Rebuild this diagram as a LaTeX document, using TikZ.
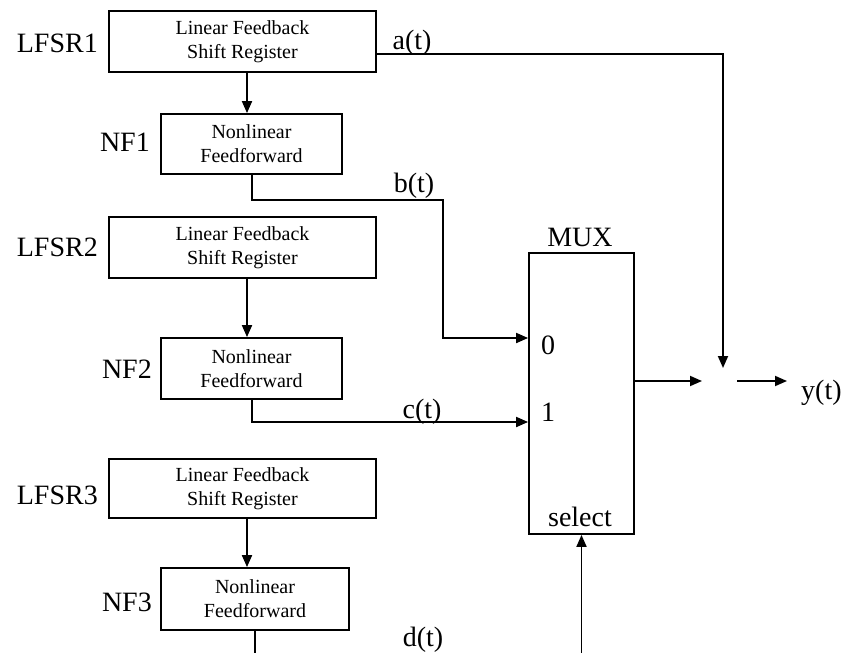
\documentclass[tikz,border=0pt]{standalone}
\usepackage{fontspec}
\setmainfont{Liberation Serif}
\usetikzlibrary{arrows.meta}
\begin{document}
\begin{tikzpicture}[x=1pt,y=-1pt,
  wire/.style={line width=1.8pt},
  arr/.style={wire,-{Triangle[length=12pt,width=10pt]}},
  block/.style={draw,line width=1.8pt,inner sep=0pt,align=center,
    font=\fontsize{20}{24}\selectfont},
  lbl/.style={inner sep=0pt,font=\fontsize{28}{32}\selectfont}]
\useasboundingbox (0,0) rectangle (841,653);

% generator blocks
\node[block,minimum width=267pt,minimum height=61pt] (L1) at (242.5,41.5) {Linear Feedback\\Shift Register};
\node[block,minimum width=181pt,minimum height=60pt] (N1) at (251.5,144) {Nonlinear\\Feedforward};
\node[block,minimum width=267pt,minimum height=61pt] (L2) at (242.5,247.5) {Linear Feedback\\Shift Register};
\node[block,minimum width=181pt,minimum height=61pt] (N2) at (251.5,368.5) {Nonlinear\\Feedforward};
\node[block,minimum width=267pt,minimum height=59pt] (L3) at (242.5,488.5) {Linear Feedback\\Shift Register};
\node[block,minimum width=188pt,minimum height=62pt] (N3) at (255,599) {Nonlinear\\Feedforward};
\node[block,minimum width=105pt,minimum height=281pt] (MUX) at (581.5,393.5) {};

% block names
\node[lbl,anchor=east] (tL1) at (98,43) {LFSR1};
\node[lbl,anchor=east] (tL2) at (98,247) {LFSR2};
\node[lbl,anchor=east] (tL3) at (98,495) {LFSR3};
\node[lbl,anchor=east] (tN1) at (150,142) {NF1};
\node[lbl,anchor=east] (tN2) at (152,369) {NF2};
\node[lbl,anchor=east] (tN3) at (152,602) {NF3};
\node[lbl,anchor=base] (tMUX) at (580,246) {MUX};
\node[lbl] (in0) at (548,345) {0};
\node[lbl] (in1) at (548,412) {1};
\node[lbl,anchor=base] (sel) at (580,526) {select};

% signal names
\node[lbl,anchor=base] (ta) at (412,49) {a(t)};
\node[lbl,anchor=base] (tb) at (414,192) {b(t)};
\node[lbl,anchor=base] (tc) at (422,418) {c(t)};
\node[lbl,anchor=base] (td) at (423,646) {d(t)};
\node[lbl,anchor=base west] (yt) at (801,399) {y(t)};

% routing points
\coordinate (xa) at (247,0);
\coordinate (xb) at (252,0);
\coordinate (xd) at (255,653);
\coordinate (ya) at (0,54);
\coordinate (bt) at (443,200);
\coordinate (y0) at (0,338);
\coordinate (y1) at (0,422);
\coordinate (yo) at (0,381);
\coordinate (jt) at (723,368);
\coordinate (jl) at (702,381);
\coordinate (jr) at (737,381);
\coordinate (sb) at (581.5,653);

% LFSR to NF
\draw[arr] (L1.south -| xa) -- (N1.north -| xa);
\draw[arr] (L2.south -| xa) -- (N2.north -| xa);
\draw[arr] (L3.south -| xa) -- (N3.north -| xa);

% a(t)
\draw[arr] (L1.east |- ya) -| (jt);
% b(t)
\draw[arr] (N1.south -| xb) |- (bt) |- (MUX.west |- y0);
% c(t)
\draw[arr] (N2.south -| xb) |- (MUX.west |- y1);
% d(t)
\draw[wire] (N3.south) -- (xd);
\draw[arr] (sb) -- (MUX.south);
% output
\draw[arr] (MUX.east |- yo) -- (jl);
\draw[arr,shorten >=14pt] (jr) -- (jr -| yt.west);
\end{tikzpicture}
\end{document}
